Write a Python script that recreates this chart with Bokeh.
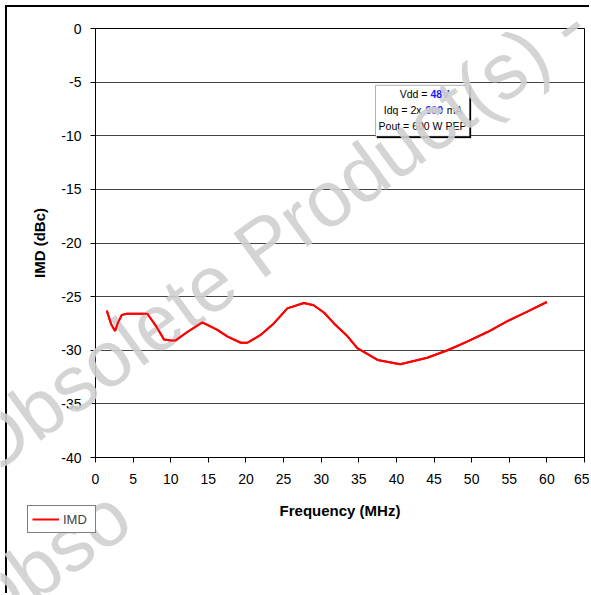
from bokeh.plotting import figure
from bokeh.models import Range1d, FixedTicker, Label, BoxAnnotation, Legend, LegendItem
from bokeh.embed import file_html
from bokeh.resources import INLINE

# ---- data ----
freq_mhz = [1.5, 2.1, 2.6, 3.0, 3.5, 4.2, 6.9, 7.5, 8.1, 8.6, 9.1, 10.0, 10.6, 12.2, 14.2,
            16.2, 17.5, 19.3, 20.2, 21.9, 23.7, 25.5, 27.7, 29.0, 30.4, 31.7, 33.5,
            34.8, 37.5, 40.5, 44.1, 46.8, 49.4, 52.1, 54.7, 57.4, 60.0]
imd_dbc = [-26.3, -27.6, -28.2, -27.4, -26.7, -26.6, -26.6, -27.2, -27.8, -28.4, -29.0, -29.1,
           -29.1, -28.3, -27.4, -28.1, -28.7, -29.3, -29.3, -28.6, -27.5, -26.1, -25.6,
           -25.8, -26.5, -27.5, -28.7, -29.8, -30.9, -31.3, -30.7, -30.0, -29.2, -28.3,
           -27.3, -26.4, -25.5]
x_ticks = [0, 5, 10, 15, 20, 25, 30, 35, 40, 45, 50, 55, 60, 65]
y_ticks = [0, -5, -10, -15, -20, -25, -30, -35, -40]
y_tick_labels = ["0", "-5", "-10", "-15", "-20", "-25", "-30", "-35", "-40"]
x_title = "Frequency (MHz)"
y_title = "IMD (dBc)"
series_name = "IMD"
watermark_text = "Obsolete Product(s) - "
watermark_text2 = "Obso"

FONT = "Liberation Sans"
BLUE = "#1a1aff"
RED = "#ff0000"
X0, X1, Y0, Y1 = 0, 65, -40, 0

# page geometry (pixels): canvas origin, size and plot frame
PAGE_W, PAGE_H = 591, 595
CANVAS_X, CANVAS_Y, CANVAS_W, CANVAS_H = 7, 7, 584, 588
FR_L, FR_R, FR_T, FR_B = 95, 584, 28, 457

p = figure(width=CANVAS_W, height=CANVAS_H, x_range=Range1d(X0, X1), y_range=Range1d(Y0, Y1),
           output_backend="svg", toolbar_location=None,
           min_border_left=FR_L - CANVAS_X, min_border_right=CANVAS_X + CANVAS_W - FR_R,
           min_border_top=FR_T - CANVAS_Y, min_border_bottom=CANVAS_Y + CANVAS_H - FR_B,
           styles={"margin-left": "5px", "margin-top": "5px",
                   "border-left": "2px solid black", "border-top": "2px solid black"})
p.background_fill_color = "white"
p.border_fill_color = "white"
p.outline_line_color = "black"
p.outline_line_width = 1

p.xgrid.visible = False
p.ygrid.ticker = FixedTicker(ticks=y_ticks)
p.ygrid.grid_line_color = "#444444"
p.ygrid.grid_line_width = 1

p.xaxis.ticker = FixedTicker(ticks=x_ticks)
p.yaxis.ticker = FixedTicker(ticks=y_ticks)
p.yaxis.major_label_overrides = {t: l for t, l in zip(y_ticks, y_tick_labels)}
for ax in (p.xaxis[0], p.yaxis[0]):
    ax.major_tick_out = 5
    ax.major_tick_in = 0
    ax.minor_tick_out = 0
    ax.minor_tick_in = 0
    ax.axis_line_color = "black"
    ax.axis_line_width = 1
    ax.major_tick_line_color = "black"
    ax.major_label_text_font = FONT
    ax.major_label_text_font_size = "14px"
    ax.major_label_text_color = "black"
    ax.axis_label_text_font = FONT
    ax.axis_label_text_font_size = "15px"
    ax.axis_label_text_font_style = "bold"
    ax.axis_label_text_color = "black"
p.xaxis.axis_label = x_title
p.yaxis.axis_label = y_title
p.xaxis.major_label_standoff = 11
p.xaxis.axis_label_standoff = 15
p.yaxis.major_label_standoff = 9
p.yaxis.axis_label_standoff = 10

# condition box
box_l, box_r, box_t, box_b = 37.22, 49.71, -5.30, -10.05
p.add_layout(BoxAnnotation(left=box_l + 0.2, right=box_r + 0.2, top=box_t - 0.15, bottom=box_b - 0.15,
                           fill_color="black", fill_alpha=1, line_color="black"))
p.add_layout(BoxAnnotation(left=box_l, right=box_r, top=box_t, bottom=box_b,
                           fill_color="white", fill_alpha=1, line_color="black", line_width=1))
note_parts = [
    ("Vdd =", 332, 364, "right", "black", "normal"),
    ("48V", 335, 364, "left", BLUE, "bold"),
    ("Idq = 2x", 326, 348, "right", "black", "normal"),
    ("900", 330, 348, "left", BLUE, "bold"),
    ("mA", 367, 348, "right", "black", "normal"),
    ("Pout = 600 W PEP", 327, 332, "center", "black", "normal"),
]
for txt, x, y, al, col, st in note_parts:
    p.add_layout(Label(x=x, y=y, x_units="screen", y_units="screen", text=txt,
                       text_align=al, text_baseline="middle", text_font=FONT,
                       text_font_size="10.5px", text_color=col, text_font_style=st))

p.line(freq_mhz, imd_dbc, line_color=RED, line_width=2)

# transparent overlay, page-sized: watermark, the curve on top of it, and the legend
wm = figure(width=PAGE_W, height=PAGE_H, x_range=Range1d(0, PAGE_W), y_range=Range1d(PAGE_H, 0),
            x_axis_type=None, y_axis_type=None, output_backend="svg", toolbar_location=None,
            min_border=0,
            styles={"position": "absolute", "left": "0px", "top": "0px",
                    "z-index": "5", "pointer-events": "none"})
wm.outline_line_color = None
wm.background_fill_alpha = 0
wm.border_fill_alpha = 0
for txt, x, y in [(watermark_text, -30, 457), (watermark_text2, -33, 617)]:
    wm.add_layout(Label(x=x, y=y, text=txt, angle=36, angle_units="deg",
                        text_align="left", text_baseline="middle",
                        text_font="Liberation Sans", text_font_size="79px",
                        text_color="#cfcfcf", text_alpha=0.9))

# data ranges of the overlay, aligned with the main plot frame
kx = (X1 - X0) / (FR_R - FR_L)
ky = (Y1 - Y0) / (FR_B - FR_T)
wm.extra_x_ranges = {"f": Range1d(X0 - FR_L * kx, X0 + (PAGE_W - FR_L) * kx)}
wm.extra_y_ranges = {"f": Range1d(Y0 - (PAGE_H - FR_B) * ky, Y1 + FR_T * ky)}
curve = wm.line(freq_mhz, imd_dbc, line_color=RED, line_width=2,
                x_range_name="f", y_range_name="f", level="overlay")

legend = Legend(items=[LegendItem(label=series_name, renderers=[curve])],
                location=(27, 62), margin=0, padding=4, spacing=0,
                border_line_color="black", border_line_width=1,
                background_fill_color="white", background_fill_alpha=1,
                glyph_width=27, glyph_height=18, label_standoff=4, label_width=28,
                label_text_font=FONT, label_text_font_size="13px", label_height=18)
wm.add_layout(legend, "center")

open("out.html", "w").write(file_html([p, wm], INLINE))
